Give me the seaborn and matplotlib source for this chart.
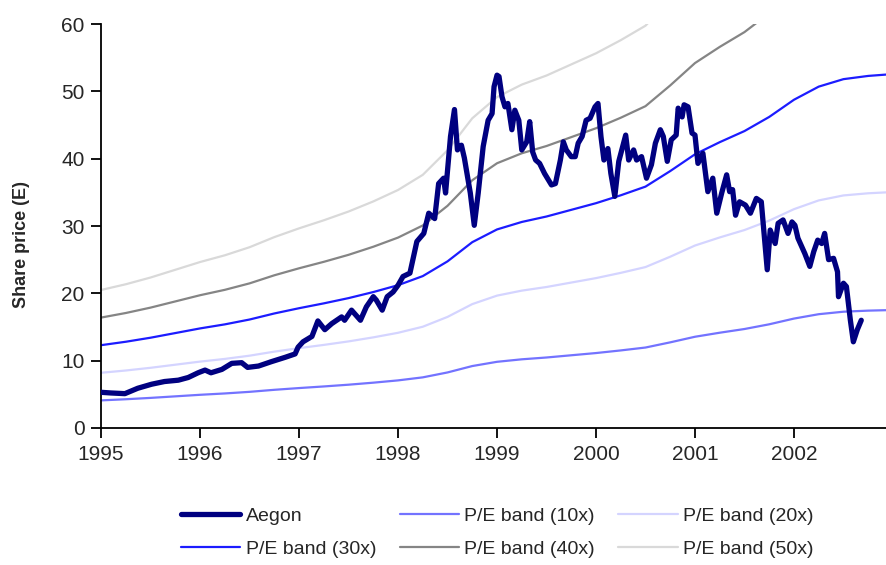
import numpy as np
import pandas as pd
import seaborn as sns
import matplotlib.pyplot as plt

# Aegon share price (EUR), decimal years
aegon_years = [
    1995.00, 1995.10, 1995.24, 1995.37, 1995.51, 1995.64, 1995.78, 1995.88, 1995.98,
    1996.05, 1996.11, 1996.22, 1996.32, 1996.42, 1996.48, 1996.59, 1996.72, 1996.86,
    1996.96, 1996.99, 1997.04, 1997.13, 1997.19, 1997.26, 1997.33, 1997.43, 1997.46,
    1997.53, 1997.62, 1997.68, 1997.75, 1997.78, 1997.84, 1997.89, 1997.95, 1998.00,
    1998.05, 1998.12, 1998.15, 1998.19, 1998.26, 1998.31, 1998.37, 1998.41, 1998.46,
    1998.48, 1998.53, 1998.57, 1998.60, 1998.64, 1998.67, 1998.73, 1998.77, 1998.81,
    1998.86, 1998.91, 1998.95, 1998.97, 1999.00, 1999.02, 1999.05, 1999.08, 1999.11,
    1999.15, 1999.18, 1999.22, 1999.25, 1999.30, 1999.33, 1999.36, 1999.39, 1999.43,
    1999.48, 1999.55, 1999.59, 1999.64, 1999.67, 1999.70, 1999.75, 1999.79, 1999.82,
    1999.86, 1999.90, 1999.94, 1999.99, 2000.02, 2000.05, 2000.08, 2000.12, 2000.15,
    2000.19, 2000.23, 2000.30, 2000.33, 2000.38, 2000.41, 2000.46, 2000.51, 2000.56,
    2000.60, 2000.65, 2000.68, 2000.72, 2000.76, 2000.81, 2000.83, 2000.87, 2000.89,
    2000.93, 2000.97, 2001.00, 2001.03, 2001.08, 2001.13, 2001.18, 2001.22, 2001.27,
    2001.32, 2001.35, 2001.38, 2001.41, 2001.45, 2001.51, 2001.56, 2001.62, 2001.67,
    2001.71, 2001.73, 2001.76, 2001.81, 2001.84, 2001.89, 2001.94, 2001.98, 2002.01,
    2002.04, 2002.08, 2002.11, 2002.16, 2002.20, 2002.24, 2002.28, 2002.31, 2002.35,
    2002.40, 2002.44, 2002.45, 2002.50, 2002.53, 2002.57, 2002.60, 2002.64, 2002.68,
]
aegon_price = [
    5.3, 5.2, 5.1, 5.9, 6.5, 6.9, 7.1, 7.5, 8.2,
    8.6, 8.2, 8.7, 9.6, 9.7, 9.0, 9.2, 9.85, 10.5,
    11.0, 12.0, 12.8, 13.6, 15.9, 14.6, 15.5, 16.5, 16.0,
    17.5, 16.0, 18.0, 19.5, 19.0, 17.5, 19.5, 20.2, 21.2,
    22.5, 23.0, 25.0, 27.7, 28.9, 31.9, 31.1, 36.3, 37.1,
    34.9, 43.3, 47.3, 41.3, 42.0, 40.1, 34.9, 30.1, 34.9,
    41.8, 45.7, 46.7, 50.7, 52.4, 52.2, 49.2, 47.7, 48.2,
    44.3, 47.2, 45.7, 41.3, 42.5, 45.5, 41.0, 39.8, 39.3,
    37.8, 36.1, 36.3, 39.8, 42.5, 41.3, 40.3, 40.3, 42.3,
    43.3, 45.7, 46.0, 47.7, 48.2, 43.3, 39.8, 41.5, 37.8,
    34.4, 39.6, 43.5, 39.8, 41.3, 39.8, 40.3, 37.1, 39.1,
    42.3, 44.3, 43.3, 39.6, 42.8, 43.5, 47.5, 46.2, 48.0,
    47.7, 43.8, 43.5, 39.3, 40.8, 35.1, 37.1, 31.9, 34.9,
    37.6, 35.1, 35.4, 31.6, 33.6, 33.1, 31.9, 34.1, 33.6,
    26.9, 23.5, 29.4, 27.4, 30.4, 30.9, 28.9, 30.6, 30.1,
    28.2, 26.9, 25.9, 24.0, 26.2, 27.9, 27.4, 28.9, 25.0,
    25.2, 23.2, 19.5, 21.5, 21.0, 16.0, 12.8, 14.6, 16.0,
]

# earnings per share (band = multiple x eps)
eps_years = [
    1995.00, 1995.25, 1995.50, 1995.75, 1996.00, 1996.25, 1996.50, 1996.75,
    1997.00, 1997.25, 1997.50, 1997.75, 1998.00, 1998.25, 1998.50, 1998.75,
    1999.00, 1999.25, 1999.50, 1999.75, 2000.00, 2000.25, 2000.50, 2000.75,
    2001.00, 2001.25, 2001.50, 2001.75, 2002.00, 2002.25, 2002.50, 2002.75, 2002.94,
]
eps = [
    0.410, 0.427, 0.447, 0.470, 0.493, 0.513, 0.537, 0.567,
    0.593, 0.617, 0.643, 0.673, 0.707, 0.752, 0.825, 0.920,
    0.983, 1.020, 1.047, 1.080, 1.113, 1.152, 1.195, 1.272,
    1.355, 1.415, 1.470, 1.540, 1.625, 1.690, 1.727, 1.743, 1.750,
]

multiples = [10, 20, 30, 40, 50]
band_colors = ["#7373ff", "#d4d4ff", "#1c1cff", "#858585", "#d9d9d9"]
year_ticks = [1995, 1996, 1997, 1998, 1999, 2000, 2001, 2002]

sns.set_style("white")
plt.rcParams["font.family"] = ["Liberation Sans", "DejaVu Sans"]

fig = plt.figure(figsize=(8.87, 5.65), dpi=100)
ax = fig.add_axes([0.114, 0.2425, 0.886, 0.715])

bands = pd.DataFrame({"year": eps_years, "eps": eps})
for m, c in zip(multiples, band_colors):
    bands[f"band_{m}"] = bands["eps"] * m
    sns.lineplot(data=bands, x="year", y=f"band_{m}", color=c, linewidth=1.6,
                 ax=ax, label=f"P/E band ({m}x)", zorder=2)

price = pd.DataFrame({"year": aegon_years, "price": aegon_price})
sns.lineplot(data=price, x="year", y="price", color="#000080", linewidth=3.8,
             ax=ax, label="Aegon", zorder=3)

ax.set_xlim(1995, 2002.94)
ax.set_ylim(0, 60)
ax.set_xticks(year_ticks)
ax.set_xticklabels([str(y) for y in year_ticks])
ax.set_yticks(range(0, 61, 10))
ax.set_xlabel("")
ax.set_ylabel("Share price (E)", fontsize=13, fontweight="bold")
ax.yaxis.set_label_coords(-0.09, 0.455)

for side in ["top", "right"]:
    ax.spines[side].set_visible(False)
for side in ["left", "bottom"]:
    ax.spines[side].set_color("black")
    ax.spines[side].set_linewidth(1.3)
ax.tick_params(axis="both", direction="out", length=7, width=1.3,
               color="black", labelsize=15, left=True, bottom=True)
ax.tick_params(axis="x", pad=5)
ax.tick_params(axis="y", pad=5)
ax.grid(False)

# legend: row-major order in 3 columns
h, l = ax.get_legend_handles_labels()
lookup = dict(zip(l, h))
order = ["Aegon", "P/E band (30x)", "P/E band (10x)",
         "P/E band (40x)", "P/E band (20x)", "P/E band (50x)"]
ax.get_legend().remove()
fig.legend([lookup[k] for k in order], order, ncol=3, loc="upper left",
           bbox_to_anchor=(0.204, 0.102), frameon=False, fontsize=14,
           handlelength=3.05, handletextpad=0.28, columnspacing=1.2,
           labelspacing=0.78, borderaxespad=0, borderpad=0)

fig.savefig("out.png", dpi=100)
